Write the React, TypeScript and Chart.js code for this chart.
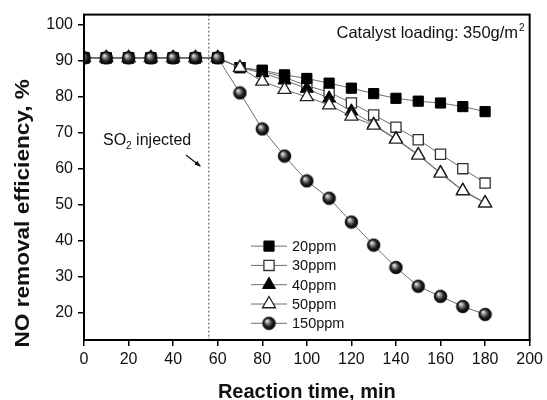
import React, { useEffect, useRef } from 'react';
import { Chart, registerables } from 'chart.js';

Chart.register(...registerables);

// ---------- data ----------
const time = [0, 10, 20, 30, 40, 50, 60, 70, 80, 90, 100, 110, 120, 130, 140, 150, 160, 170, 180];
const ppm20 = [90.7, 90.7, 90.7, 90.7, 90.7, 90.7, 90.7, 88.0, 87.3, 86.0, 85.0, 83.7, 82.3, 80.8, 79.5, 78.7, 78.2, 77.2, 75.8];
const ppm30 = [90.7, 90.7, 90.7, 90.7, 90.7, 90.7, 90.7, 88.0, 87.0, 85.3, 83.0, 81.2, 78.2, 74.9, 71.5, 68.0, 64.0, 60.0, 56.0];
const ppm40 = [90.7, 90.7, 90.7, 90.7, 90.7, 90.7, 90.7, 88.0, 86.5, 84.5, 82.2, 79.5, 75.9, 72.3, 68.3, 63.9, 58.9, 54.0, 50.6];
const ppm50 = [90.7, 90.7, 90.7, 90.7, 90.7, 90.7, 90.7, 88.0, 84.2, 81.9, 79.9, 77.6, 74.5, 72.0, 68.1, 63.7, 58.7, 53.8, 50.4];
const ppm150 = [90.7, 90.7, 90.7, 90.7, 90.7, 90.7, 90.7, 81.0, 71.0, 63.5, 56.6, 51.8, 45.2, 38.8, 32.6, 27.4, 24.6, 21.8, 19.6];
const seriesLabels = ['20ppm', '30ppm', '40ppm', '50ppm', '150ppm'];

const xTicks = [0, 20, 40, 60, 80, 100, 120, 140, 160, 180, 200];
const yTicks = [20, 30, 40, 50, 60, 70, 80, 90, 100];
const xRange = [0, 200];
const yRange = [12.5, 102.7];
const injectTime = 56;

const xTitle = 'Reaction time, min';
const yTitle = 'NO removal efficiency, %';
const noteMain = 'Catalyst loading: 350g/m';
const noteSup = '2';
const so2Main = 'SO';
const so2Sub = '2';
const so2Rest = ' injected';

const FONT = '"Liberation Sans", Arial, Helvetica, sans-serif';

function makeSphere(r: number): HTMLCanvasElement {
  const size = Math.ceil(r * 2 + 2);
  const c = document.createElement('canvas');
  c.width = size;
  c.height = size;
  const ctx = c.getContext('2d')!;
  const cx = size / 2;
  const cy = size / 2;
  const g = ctx.createRadialGradient(cx - r * 0.35, cy - r * 0.4, r * 0.05, cx, cy, r);
  g.addColorStop(0, '#f0f0f0');
  g.addColorStop(0.3, '#8a8a8a');
  g.addColorStop(0.65, '#222');
  g.addColorStop(1, '#000');
  ctx.fillStyle = g;
  ctx.beginPath();
  ctx.arc(cx, cy, r, 0, Math.PI * 2);
  ctx.fill();
  ctx.strokeStyle = '#000';
  ctx.lineWidth = 0.8;
  ctx.stroke();
  return c;
}

function drawMarker(ctx: CanvasRenderingContext2D, ds: any, x: number, y: number) {
  const style = ds.pointStyle;
  ctx.save();
  if (style instanceof HTMLCanvasElement) {
    ctx.drawImage(style, x - style.width / 2, y - style.height / 2);
  } else {
    const r = ds.pointRadius;
    ctx.fillStyle = ds.pointBackgroundColor;
    ctx.strokeStyle = ds.pointBorderColor;
    ctx.lineWidth = ds.pointBorderWidth;
    ctx.beginPath();
    if (style === 'rect') {
      const s = Math.SQRT1_2 * r;
      ctx.rect(x - s, y - s, 2 * s, 2 * s);
    } else if (style === 'triangle') {
      ctx.moveTo(x, y - r);
      ctx.lineTo(x + r * 0.866, y + r * 0.5);
      ctx.lineTo(x - r * 0.866, y + r * 0.5);
      ctx.closePath();
    }
    ctx.fill();
    ctx.stroke();
  }
  ctx.restore();
}

const decorPlugin = {
  id: 'decor',
  beforeDatasetsDraw(chart: any) {
    const { ctx, chartArea: a, scales } = chart;
    const px = scales.x.getPixelForValue(injectTime);
    ctx.save();
    ctx.strokeStyle = '#666';
    ctx.lineWidth = 1.2;
    ctx.setLineDash([2, 2]);
    ctx.beginPath();
    ctx.moveTo(px, a.top);
    ctx.lineTo(px, a.bottom);
    ctx.stroke();
    ctx.restore();
  },
  afterDraw(chart: any) {
    const { ctx, chartArea: a } = chart;
    ctx.save();
    // frame
    ctx.strokeStyle = '#000';
    ctx.lineWidth = 2;
    ctx.strokeRect(a.left, a.top, a.right - a.left, a.bottom - a.top);

    ctx.fillStyle = '#111';
    // x title
    ctx.font = `bold 20px ${FONT}`;
    ctx.textAlign = 'center';
    ctx.textBaseline = 'alphabetic';
    ctx.fillText(xTitle, (a.left + a.right) / 2, 398);

    // y title
    ctx.save();
    ctx.translate(23, (a.top + a.bottom) / 2 + 36);
    ctx.rotate(-Math.PI / 2);
    ctx.scale(1.13, 1);
    ctx.font = `bold 20px ${FONT}`;
    ctx.textAlign = 'center';
    ctx.textBaseline = 'middle';
    ctx.fillText(yTitle, 0, 0);
    ctx.restore();

    // catalyst note
    ctx.textAlign = 'right';
    ctx.textBaseline = 'alphabetic';
    ctx.font = `10px ${FONT}`;
    const supW = ctx.measureText(noteSup).width;
    ctx.fillText(noteSup, a.right - 5, a.top + 16);
    ctx.font = `16.5px ${FONT}`;
    ctx.fillText(noteMain, a.right - 6 - supW, a.top + 23);

    // SO2 injected
    ctx.textAlign = 'left';
    let tx = a.left + 19;
    const ty = 145;
    ctx.font = `16px ${FONT}`;
    ctx.fillText(so2Main, tx, ty);
    tx += ctx.measureText(so2Main).width;
    ctx.font = `10px ${FONT}`;
    ctx.fillText(so2Sub, tx, ty + 4);
    tx += ctx.measureText(so2Sub).width;
    ctx.font = `16px ${FONT}`;
    ctx.fillText(so2Rest, tx, ty);

    // arrow
    const x0 = a.left + 102, y0 = 155, x1 = a.left + 116, y1 = 166;
    ctx.strokeStyle = '#111';
    ctx.lineWidth = 1.2;
    ctx.beginPath();
    ctx.moveTo(x0, y0);
    ctx.lineTo(x1, y1);
    ctx.stroke();
    const ang = Math.atan2(y1 - y0, x1 - x0);
    ctx.beginPath();
    ctx.moveTo(x1 + 1, y1 + 0.8);
    ctx.lineTo(x1 + 1 - 7 * Math.cos(ang - 0.35), y1 + 0.8 - 7 * Math.sin(ang - 0.35));
    ctx.lineTo(x1 + 1 - 7 * Math.cos(ang + 0.35), y1 + 0.8 - 7 * Math.sin(ang + 0.35));
    ctx.closePath();
    ctx.fill();

    // legend
    const lx0 = a.left + 167;
    const lx1 = a.left + 203;
    const lmx = (lx0 + lx1) / 2;
    const ltx = a.left + 208;
    const ly0 = a.top + 231.5;
    const lstep = 19.3;
    chart.data.datasets.forEach((ds: any, i: number) => {
      const y = ly0 + i * lstep;
      ctx.strokeStyle = ds.borderColor;
      ctx.lineWidth = ds.borderWidth;
      ctx.beginPath();
      ctx.moveTo(lx0, y);
      ctx.lineTo(lx1, y);
      ctx.stroke();
      drawMarker(ctx, ds, lmx, y);
      ctx.fillStyle = '#111';
      ctx.font = `14.5px ${FONT}`;
      ctx.textAlign = 'left';
      ctx.textBaseline = 'middle';
      ctx.fillText(ds.label, ltx, y + 1);
    });
    ctx.restore();
  },
};

export default function App() {
  const ref = useRef<HTMLCanvasElement | null>(null);

  useEffect(() => {
    if (!ref.current) return;
    const sphere = makeSphere(6.3);
    const pts = (vals: number[]) => time.map((t, i) => ({ x: t, y: vals[i] }));
    const lineColor = '#6e6e6e';
    const base = {
      borderColor: lineColor,
      borderWidth: 1,
      tension: 0,
      fill: false,
    };
    const chart = new Chart(ref.current, {
      type: 'line',
      data: {
        datasets: [
          {
            ...base,
            label: seriesLabels[0],
            data: pts(ppm20),
            pointStyle: 'rect',
            pointRadius: 7.2,
            pointBackgroundColor: '#000',
            pointBorderColor: '#000',
            pointBorderWidth: 1,
            order: 2,
          },
          {
            ...base,
            label: seriesLabels[1],
            data: pts(ppm30),
            pointStyle: 'rect',
            pointRadius: 7.2,
            pointBackgroundColor: '#fff',
            pointBorderColor: '#333',
            pointBorderWidth: 1.3,
            order: 4,
          },
          {
            ...base,
            label: seriesLabels[2],
            data: pts(ppm40),
            pointStyle: 'triangle',
            pointRadius: 7.5,
            pointBackgroundColor: '#000',
            pointBorderColor: '#000',
            pointBorderWidth: 1,
            order: 3,
          },
          {
            ...base,
            label: seriesLabels[3],
            data: pts(ppm50),
            pointStyle: 'triangle',
            pointRadius: 7.5,
            pointBackgroundColor: '#fff',
            pointBorderColor: '#222',
            pointBorderWidth: 1.3,
            order: 1,
          },
          {
            ...base,
            label: seriesLabels[4],
            data: pts(ppm150),
            pointStyle: sphere,
            pointRadius: 6.3,
            pointBackgroundColor: '#000',
            pointBorderColor: '#000',
            pointBorderWidth: 1,
            order: 0,
          },
        ] as any,
      },
      options: {
        animation: false,
        responsive: false,
        events: [],
        layout: { padding: { top: 10, right: 16, left: 0, bottom: 0 } },
        plugins: {
          legend: { display: false },
          tooltip: { enabled: false },
        },
        scales: {
          x: {
            type: 'linear',
            min: xRange[0],
            max: xRange[1],
            afterBuildTicks: (s: any) => {
              s.ticks = xTicks.map((v) => ({ value: v }));
            },
            afterFit: (s: any) => {
              s.height = 60;
            },
            grid: {
              display: true,
              drawOnChartArea: false,
              drawTicks: true,
              tickLength: 6,
              color: '#000',
              lineWidth: 1.5,
            },
            border: { display: false },
            ticks: {
              color: '#111',
              font: { size: 16, family: FONT },
              padding: 4,
              maxRotation: 0,
              autoSkip: false,
            },
          },
          y: {
            type: 'linear',
            min: yRange[0],
            max: yRange[1],
            afterBuildTicks: (s: any) => {
              s.ticks = yTicks.map((v) => ({ value: v }));
            },
            afterFit: (s: any) => {
              s.width = 84;
            },
            grid: {
              display: true,
              drawOnChartArea: false,
              drawTicks: true,
              tickLength: 6,
              color: '#000',
              lineWidth: 1.5,
            },
            border: { display: false },
            ticks: {
              color: '#111',
              font: { size: 16, family: FONT },
              padding: 5,
              autoSkip: false,
            },
          },
        },
      },
      plugins: [decorPlugin],
    } as any);
    return () => chart.destroy();
  }, []);

  return (
    <div style={{ position: 'fixed', left: 0, top: 0, width: 547, height: 400, background: '#fff' }}>
      <canvas ref={ref} width={547} height={400} style={{ display: 'block' }} />
    </div>
  );
}
